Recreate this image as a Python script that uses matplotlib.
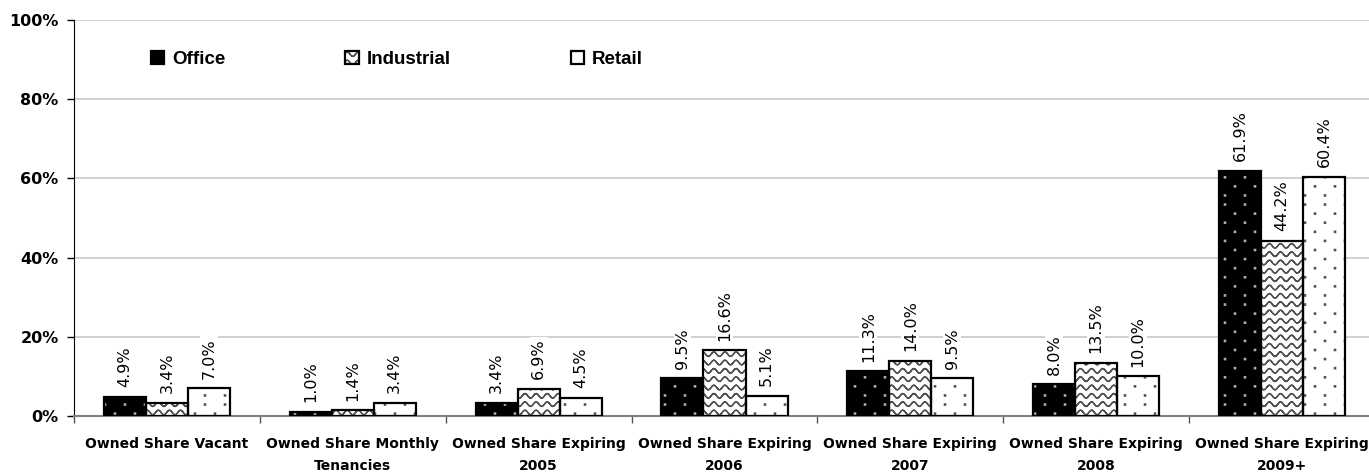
import warnings
import numpy as np
import matplotlib
matplotlib.use("Agg")
import matplotlib.pyplot as plt
from matplotlib import hatch as mhatch
from matplotlib.path import Path
from matplotlib.legend_handler import HandlerTuple

warnings.filterwarnings("ignore")

categories = ["Owned Share Vacant", "Owned Share Monthly\nTenancies",
              "Owned Share Expiring\n2005", "Owned Share Expiring\n2006",
              "Owned Share Expiring\n2007", "Owned Share Expiring\n2008",
              "Owned Share Expiring\n2009+"]
office = [4.9, 1.0, 3.4, 9.5, 11.3, 8.0, 61.9]
industrial = [3.4, 1.4, 6.9, 16.6, 14.0, 13.5, 44.2]
retail = [7.0, 3.4, 4.5, 5.1, 9.5, 10.0, 60.4]
series_names = ["Office", "Industrial", "Retail"]
yticks = [0, 20, 40, 60, 80, 100]


# wavy hatch, registered as '~' (path goes forward and back so it has no area)
class WaveHatch(mhatch.HatchPatternBase):
    npts = 81

    def __init__(self, hatch, density):
        self.num_lines = int(hatch.count('~') * density)
        self.num_vertices = self.num_lines * self.npts * 2

    def set_vertices_and_codes(self, vertices, codes):
        steps, stepsize = np.linspace(0.0, 1.0, self.num_lines, False, retstep=True)
        steps += stepsize / 2.
        xs = np.linspace(0.0, 1.0, self.npts)
        xs = np.concatenate([xs, xs[::-1]])
        n = len(xs)
        for i, s in enumerate(steps):
            vertices[i*n:(i+1)*n, 0] = xs
            vertices[i*n:(i+1)*n, 1] = s + stepsize * 0.28 * np.sin(2 * np.pi * 9 * xs)
            codes[i*n] = Path.MOVETO
            codes[i*n+1:(i+1)*n] = Path.LINETO


# small dots on a staggered grid, registered as ';'
class DotHatch(mhatch.HatchPatternBase):
    def __init__(self, hatch, density):
        self.pts = []
        if ';' in hatch:
            for r in range(11):
                off = 0.5 if r % 2 else 0.0
                for c in range(5):
                    self.pts.append(((c + 0.25 + off) / 5, (r + 0.5) / 11))
        self.num_vertices = len(self.pts) * 5

    def set_vertices_and_codes(self, vertices, codes):
        d = 0.006
        for i, (cx, cy) in enumerate(self.pts):
            vertices[i*5:(i+1)*5] = [(cx-d, cy-d), (cx+d, cy-d), (cx+d, cy+d), (cx-d, cy+d), (cx-d, cy-d)]
            codes[i*5] = Path.MOVETO
            codes[i*5+1:i*5+4] = Path.LINETO
            codes[i*5+4] = Path.CLOSEPOLY


mhatch._hatch_types.append(WaveHatch)
mhatch._hatch_types.append(DotHatch)

plt.rcParams['font.family'] = 'DejaVu Sans'
plt.rcParams['hatch.linewidth'] = 1.0

fig = plt.figure(figsize=(13.69, 4.76), dpi=100)
ax = fig.add_axes([74/1369, 60/476, 1301/1369, 396/476])

x = np.arange(len(categories))
w = 0.226
styles = [
    dict(color="black", edgecolor="#b0b0b0", hatch=";"),
    dict(color="white", edgecolor="#505050", hatch="~~"),
    dict(color="white", edgecolor="#505050", hatch=";"),
]
handles = []
for k, (vals, st) in enumerate(zip([office, industrial, retail], styles)):
    pos = x + (k - 1) * w
    b1 = ax.bar(pos, vals, w, color=st["color"], edgecolor=st["edgecolor"],
                hatch=st["hatch"], linewidth=0, zorder=2)
    b2 = ax.bar(pos, vals, w, fill=False, edgecolor="black", linewidth=1.6, zorder=3)
    handles.append((b1[0], b2[0]))
    for p, v in zip(pos, vals):
        ax.annotate(f"{v:.1f}%", (p, v), xytext=(0, 7), textcoords="offset points",
                    rotation=90, ha="center", va="bottom", fontsize=11.5,
                    bbox=dict(facecolor="white", edgecolor="none", pad=1), zorder=4)

ax.set_xlim(-0.5, len(categories) - 0.5)
ax.set_ylim(0, 100)
ax.set_yticks(yticks)
ax.set_yticklabels([f"{t}%" for t in yticks], fontsize=11.5, fontweight="bold")
ax.yaxis.grid(True, color="#c8c8c8", linewidth=1.2, zorder=0)
ax.set_axisbelow(True)

ax.set_xticks(x)
ax.set_xticklabels(categories, fontsize=10, fontweight="bold", linespacing=1.75)
ax.set_xticks(np.arange(len(categories) + 1) - 0.5, minor=True)
ax.tick_params(axis="x", which="major", length=0, pad=15)
ax.tick_params(axis="x", which="minor", length=5, color="#555555", width=1)
ax.tick_params(axis="y", length=5, width=1, color="black", pad=6)

for s in ["top", "right"]:
    ax.spines[s].set_visible(False)
ax.spines["left"].set_color("black")
ax.spines["bottom"].set_color("#808080")
ax.spines["bottom"].set_linewidth(1.5)

leg = ax.legend(handles, series_names, handler_map={tuple: HandlerTuple(ndivide=1)},
                loc="center left", bbox_to_anchor=(0.0592, 0.9), ncol=3, frameon=False,
                borderpad=0, borderaxespad=0, handlelength=0.7, handleheight=0.7,
                handletextpad=0.43, columnspacing=6.4,
                prop=dict(family="Liberation Sans", size=13.5, weight="bold"))

fig.savefig("out.png", dpi=100)
